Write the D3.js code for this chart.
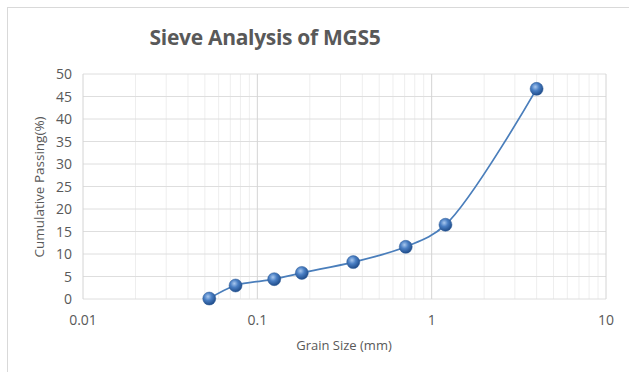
<!DOCTYPE html>
<html>
<head>
<meta charset="utf-8">
<script src="https://cdn.jsdelivr.net/npm/d3@7"></script>
<style>
  body { margin: 0; background: #fff; }
  text { font-family: "Open Sans", sans-serif; fill: #595959; }
</style>
</head>
<body>
<script>
var width = 629;
var height = 372;

// sieve data
var grainSize = [0.053, 0.075, 0.125, 0.18, 0.355, 0.71, 1.2, 4.0];
var passing = [0.1, 3.0, 4.4, 5.8, 8.2, 11.6, 16.5, 46.7];
var xTicks = [0.01, 0.1, 1, 10];
var yTicks = [0, 5, 10, 15, 20, 25, 30, 35, 40, 45, 50];

var plotLeft = 83, plotRight = 606, plotTop = 74, plotBottom = 299;

var xScale = d3.scaleLog().domain([0.01, 10]).range([plotLeft, plotRight]);
var yScale = d3.scaleLinear().domain([0, 50]).range([plotBottom, plotTop]);

var svg = d3.select("body").append("svg")
  .attr("width", width)
  .attr("height", height);

// blue ball marker
var grad = svg.append("defs").append("radialGradient")
  .attr("id", "ball").attr("cx", "40%").attr("cy", "35%").attr("r", "65%");
grad.append("stop").attr("offset", "0%").attr("stop-color", "#a9c8ee");
grad.append("stop").attr("offset", "45%").attr("stop-color", "#4a7fc4");
grad.append("stop").attr("offset", "100%").attr("stop-color", "#1f4c8a");

// chart frame
svg.append("rect")
  .attr("x", 7.5).attr("y", 7.5)
  .attr("width", width + 10).attr("height", height + 10)
  .attr("fill", "none").attr("stroke", "#d9d9d9");

// minor vertical grid
var minor = [];
[0.01, 0.1, 1].forEach(function(d) {
  for (var k = 2; k <= 9; k++) minor.push(d * k);
});
svg.append("g").selectAll("line")
  .data(minor).enter().append("line")
  .attr("x1", function(d) { return xScale(d); })
  .attr("x2", function(d) { return xScale(d); })
  .attr("y1", plotTop).attr("y2", plotBottom)
  .attr("stroke", "#eeeeee");

// horizontal grid
svg.append("g").selectAll("line")
  .data(yTicks).enter().append("line")
  .attr("x1", plotLeft).attr("x2", plotRight)
  .attr("y1", function(d) { return yScale(d); })
  .attr("y2", function(d) { return yScale(d); })
  .attr("stroke", "#dedede");

// major vertical grid
svg.append("g").selectAll("line")
  .data(xTicks).enter().append("line")
  .attr("x1", function(d) { return xScale(d); })
  .attr("x2", function(d) { return xScale(d); })
  .attr("y1", plotTop).attr("y2", plotBottom)
  .attr("stroke", "#d4d4d4");

// Y tick labels
svg.append("g").selectAll("text")
  .data(yTicks).enter().append("text")
  .attr("x", 72)
  .attr("y", function(d) { return yScale(d) + 5; })
  .attr("text-anchor", "end")
  .attr("font-size", "14px")
  .text(function(d) { return d; });

// X tick labels
svg.append("g").selectAll("text")
  .data(xTicks).enter().append("text")
  .attr("x", function(d) { return xScale(d); })
  .attr("y", 325)
  .attr("text-anchor", "middle")
  .attr("font-size", "14px")
  .text(function(d) { return d; });

var pts = grainSize.map(function(d, i) { return [d, passing[i]]; });

var line = d3.line()
  .x(function(d) { return xScale(d[0]); })
  .y(function(d) { return yScale(d[1]); })
  .curve(d3.curveCatmullRom.alpha(0.5));

svg.append("path")
  .datum(pts)
  .attr("d", line)
  .attr("fill", "none")
  .attr("stroke", "#4a7ebb")
  .attr("stroke-width", 1.75);

svg.append("g").selectAll("circle")
  .data(pts).enter().append("circle")
  .attr("cx", function(d) { return xScale(d[0]); })
  .attr("cy", function(d) { return yScale(d[1]); })
  .attr("r", 6.5)
  .attr("fill", "url(#ball)")
  .attr("stroke", "#2a5894")
  .attr("stroke-width", 0.5);

// titles
svg.append("text")
  .attr("x", 265).attr("y", 45)
  .attr("text-anchor", "middle")
  .attr("font-size", "21px")
  .attr("font-weight", "bold")
  .attr("letter-spacing", "-0.3px")
  .text("Sieve Analysis of MGS5");

svg.append("text")
  .attr("x", 344).attr("y", 350)
  .attr("text-anchor", "middle")
  .attr("font-size", "13px")
  .text("Grain Size (mm)");

svg.append("text")
  .attr("transform", "translate(44,187) rotate(-90)")
  .attr("text-anchor", "middle")
  .attr("font-size", "13.5px")
  .text("Cumulative Passing(%)");
</script>
</body>
</html>
